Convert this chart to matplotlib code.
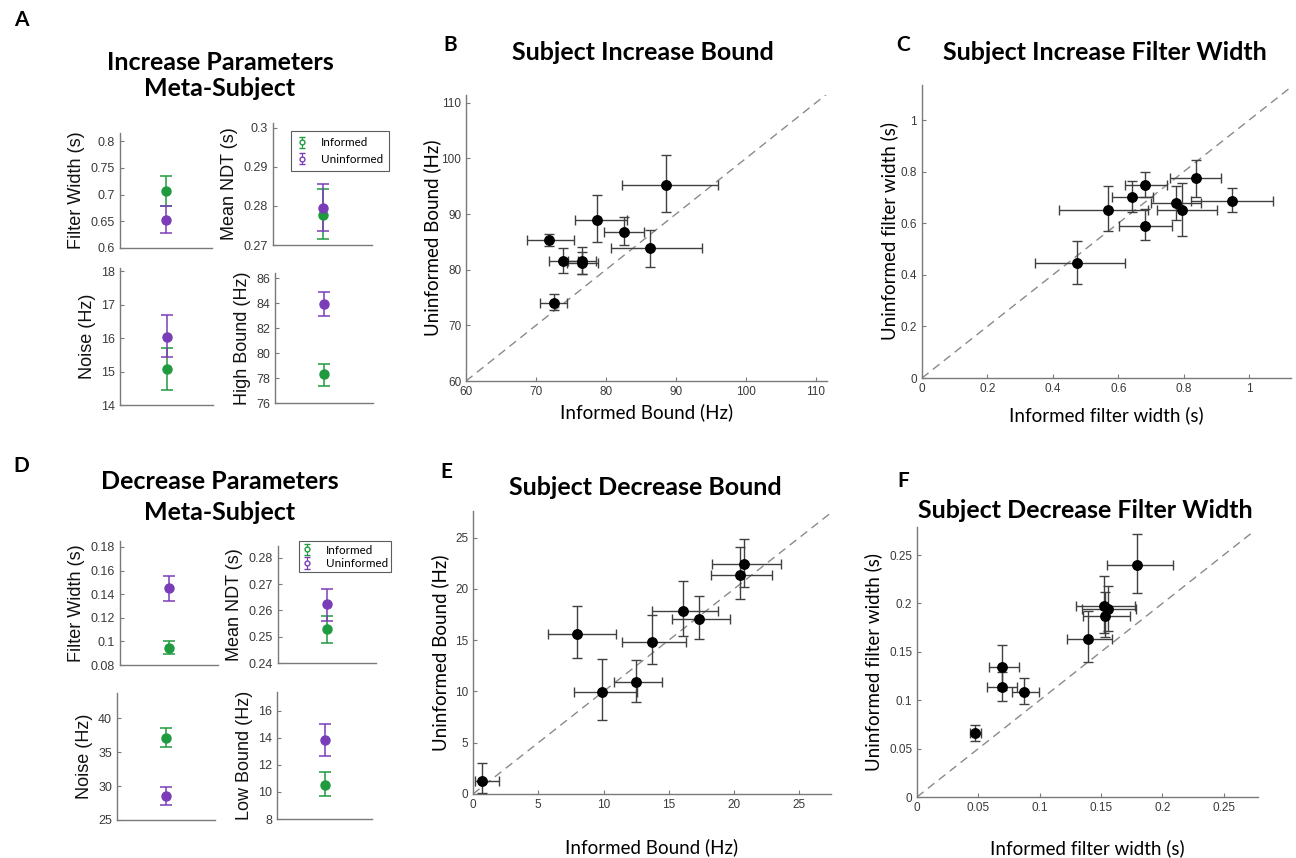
import numpy as np
import matplotlib
matplotlib.use("Agg")
import matplotlib.pyplot as plt

# ---- data: meta-subject summary panels (value, err_low, err_high) ----
labels_inc = ["Filter Width (s)", "Mean NDT (s)", "Noise (Hz)", "High Bound (Hz)"]
inc_informed = [0.707, 0.2777, 15.07, 78.3]
inc_informed_lo = [0.678, 0.2715, 14.45, 77.4]
inc_informed_hi = [0.734, 0.2842, 15.70, 79.15]
inc_uninformed = [0.653, 0.2795, 16.05, 83.95]
inc_uninformed_lo = [0.628, 0.2735, 15.43, 83.0]
inc_uninformed_hi = [0.678, 0.2857, 16.70, 84.85]
inc_ylims = [(0.6, 0.815), (0.27, 0.3012), (14, 18.1), (76, 86.4)]
inc_ticks = [[0.6, 0.65, 0.7, 0.75, 0.8], [0.27, 0.28, 0.29, 0.3],
             [14, 15, 16, 17, 18], [76, 78, 80, 82, 84, 86]]
inc_ticklabels = [["0.6", "0.65", "0.7", "0.75", "0.8"], ["0.27", "0.28", "0.29", "0.3"],
                  ["14", "15", "16", "17", "18"], ["76", "78", "80", "82", "84", "86"]]

labels_dec = ["Filter Width (s)", "Mean NDT (s)", "Noise (Hz)", "Low Bound (Hz)"]
dec_informed = [0.094, 0.253, 37.1, 10.55]
dec_informed_lo = [0.089, 0.2475, 35.7, 9.7]
dec_informed_hi = [0.100, 0.258, 38.5, 11.5]
dec_uninformed = [0.145, 0.2623, 28.5, 13.85]
dec_uninformed_lo = [0.134, 0.256, 27.2, 12.65]
dec_uninformed_hi = [0.155, 0.2683, 29.9, 15.05]
dec_ylims = [(0.08, 0.185), (0.24, 0.2845), (25, 43.7), (8, 17.4)]
dec_ticks = [[0.08, 0.1, 0.12, 0.14, 0.16, 0.18], [0.24, 0.25, 0.26, 0.27, 0.28],
             [25, 30, 35, 40], [8, 10, 12, 14, 16]]
dec_ticklabels = [["0.08", "0.1", "0.12", "0.14", "0.16", "0.18"],
                  ["0.24", "0.25", "0.26", "0.27", "0.28"],
                  ["25", "30", "35", "40"], ["8", "10", "12", "14", "16"]]

# ---- data: subject scatter panels ----
# B: increase bound
b_x = [88.54, 78.7, 82.6, 86.36, 71.85, 73.84, 76.6, 76.6, 72.56]
b_xlo = [82.3, 75.65, 79.74, 80.7, 68.66, 71.8, 74.56, 74.46, 70.6]
b_xhi = [96.06, 83.07, 85.5, 93.7, 75.37, 76.03, 78.6, 78.93, 74.46]
b_y = [95.16, 88.97, 86.86, 83.86, 85.42, 81.63, 81.63, 81.15, 74.06]
b_ylo = [90.3, 85.06, 84.46, 80.55, 84.34, 79.35, 79.17, 79.23, 72.74]
b_yhi = [100.6, 93.4, 89.4, 87.2, 86.38, 83.9, 84.1, 83.14, 75.56]

# C: increase filter width
c_x = [0.4745, 0.569, 0.643, 0.683, 0.681, 0.7765, 0.794, 0.838, 0.948]
c_xlo = [0.346, 0.419, 0.58, 0.62, 0.603, 0.70, 0.717, 0.757, 0.823]
c_xhi = [0.622, 0.69, 0.705, 0.748, 0.764, 0.852, 0.901, 0.914, 1.074]
c_y = [0.445, 0.653, 0.70, 0.749, 0.591, 0.678, 0.653, 0.776, 0.687]
c_ylo = [0.3635, 0.5705, 0.642, 0.70, 0.534, 0.6145, 0.552, 0.70, 0.642]
c_yhi = [0.532, 0.744, 0.762, 0.80, 0.656, 0.745, 0.757, 0.847, 0.735]

# E: decrease bound
e_x = [0.716, 7.98, 9.90, 12.49, 13.72, 16.1, 17.35, 20.47, 20.78]
e_xlo = [0.154, 5.78, 7.75, 10.8, 11.44, 13.72, 15.23, 18.22, 18.3]
e_xhi = [2.0, 10.93, 12.54, 14.51, 16.35, 18.78, 19.7, 22.93, 23.57]
e_y = [1.234, 15.62, 9.90, 10.88, 14.84, 17.86, 17.11, 21.4, 22.44]
e_ylo = [0.13, 13.28, 7.24, 8.96, 12.63, 15.39, 15.13, 18.99, 20.23]
e_yhi = [2.99, 18.38, 13.12, 13.05, 17.47, 20.78, 19.35, 24.09, 24.84]

# F: decrease filter width
f_x = [0.0471, 0.0697, 0.0692, 0.0871, 0.1397, 0.1522, 0.1558, 0.1536, 0.1797]
f_xlo = [0.043, 0.0583, 0.0572, 0.0773, 0.1225, 0.130, 0.1345, 0.135, 0.155]
f_xhi = [0.052, 0.0833, 0.0812, 0.0991, 0.159, 0.178, 0.1786, 0.1737, 0.209]
f_y = [0.066, 0.1343, 0.1136, 0.1088, 0.1637, 0.197, 0.194, 0.1875, 0.240]
f_ylo = [0.058, 0.111, 0.099, 0.096, 0.140, 0.169, 0.172, 0.1657, 0.2106]
f_yhi = [0.0746, 0.157, 0.129, 0.123, 0.192, 0.2286, 0.218, 0.2117, 0.272]

W, H = 1296, 858
GREEN = "#1f9a3f"
PURPLE = "#7a3db8"
SPINE = "#7a7a7a"
TICKC = "#3a3a3a"
TITLE_FONT = "Lato"
MATLAB_FONT = "Liberation Sans"

fig = plt.figure(figsize=(W / 100, H / 100), dpi=100)
fig.patch.set_facecolor("white")


def px_axes(left, top, right, bottom):
    return fig.add_axes([left / W, 1 - bottom / H, (right - left) / W, (bottom - top) / H])


def style_axes(ax, xticks=True, labelsize=8.5):
    for s in ["top", "right"]:
        ax.spines[s].set_visible(False)
    for s in ["left", "bottom"]:
        ax.spines[s].set_color(SPINE)
        ax.spines[s].set_linewidth(1.0)
    ax.tick_params(direction="in", length=3, width=0.8, color=SPINE,
                   labelcolor=TICKC, labelsize=labelsize)
    for lab in ax.get_xticklabels() + ax.get_yticklabels():
        lab.set_fontfamily(MATLAB_FONT)
    if not xticks:
        ax.set_xticks([])


def meta_panel(ax, vi, vilo, vihi, vu, vulo, vuhi, ylim, ticks, ticklabels, ylabel):
    ax.errorbar([1], [vi], yerr=[[vi - vilo], [vihi - vi]], fmt="o", color=GREEN,
                ms=6.5, elinewidth=1.1, capsize=4, capthick=1.1, zorder=3)
    ax.errorbar([1], [vu], yerr=[[vu - vulo], [vuhi - vu]], fmt="o", color=PURPLE,
                ms=6.5, elinewidth=1.1, capsize=4, capthick=1.1, zorder=3)
    ax.set_xlim(0, 2)
    ax.set_ylim(*ylim)
    ax.set_yticks(ticks)
    ax.set_yticklabels(ticklabels)
    style_axes(ax, xticks=False, labelsize=9)
    ax.set_ylabel(ylabel, fontsize=13, family=MATLAB_FONT, color="#111111", labelpad=4)


def scatter_panel(ax, x, xlo, xhi, y, ylo, yhi, xlim, ylim, ticks, ticklabels, diag_end,
                  xlabel, ylabel, xlabelpad=3, ylabelpad=3):
    x = np.array(x); y = np.array(y)
    xerr = [x - np.array(xlo), np.array(xhi) - x]
    yerr = [y - np.array(ylo), np.array(yhi) - y]
    ax.plot([xlim[0], diag_end], [ylim[0], diag_end], ls=(0, (6, 4)), color="#8a8a8a",
            lw=1.0, zorder=1)
    ax.errorbar(x, y, xerr=xerr, yerr=yerr, fmt="o", color="black", ecolor="#404040",
                ms=6.8, elinewidth=1.0, capsize=3.5, capthick=1.0, zorder=3)
    ax.set_xlim(*xlim)
    ax.set_ylim(*ylim)
    ax.set_xticks(ticks)
    ax.set_xticklabels(ticklabels)
    ax.set_yticks(ticks)
    ax.set_yticklabels(ticklabels)
    style_axes(ax)
    ax.set_xlabel(xlabel, fontsize=13.5, family=TITLE_FONT, labelpad=xlabelpad)
    ax.set_ylabel(ylabel, fontsize=13.5, family=TITLE_FONT, labelpad=ylabelpad)


def add_legend(ax, bbox, spacing, pad):
    handles = []
    for col, name in [(GREEN, "Informed"), (PURPLE, "Uninformed")]:
        h = ax.errorbar([np.nan], [np.nan], yerr=[1], fmt="o", color=col, mfc="white",
                        ms=3.5, elinewidth=0.8, capsize=2.5, label=name)
        handles.append(h)
    leg = fig.legend(handles=handles, loc="upper left", bbox_to_anchor=bbox,
                     bbox_transform=fig.transFigure, frameon=True, fancybox=False,
                     edgecolor="#333333", prop={"family": TITLE_FONT, "size": 8.4},
                     handlelength=0.8, handletextpad=1.2, borderpad=pad,
                     labelspacing=spacing, borderaxespad=0)
    leg.get_frame().set_linewidth(0.8)


# ---- panel A ----
a_rects = [(120, 133, 212, 248), (273, 123, 372, 245), (120, 268, 213, 405), (275, 273, 373, 403)]
for i, r in enumerate(a_rects):
    ax = px_axes(*r)
    meta_panel(ax, inc_informed[i], inc_informed_lo[i], inc_informed_hi[i],
               inc_uninformed[i], inc_uninformed_lo[i], inc_uninformed_hi[i],
               inc_ylims[i], inc_ticks[i], inc_ticklabels[i], labels_inc[i])
    if i == 1:
        add_legend(ax, (291 / W, 1 - 131 / H), 0.45, 0.55)

# ---- panel D ----
d_rects = [(120, 541, 218, 665), (278, 546, 376, 663), (117, 693, 215, 820), (277, 692, 372, 819)]
for i, r in enumerate(d_rects):
    ax = px_axes(*r)
    meta_panel(ax, dec_informed[i], dec_informed_lo[i], dec_informed_hi[i],
               dec_uninformed[i], dec_uninformed_lo[i], dec_uninformed_hi[i],
               dec_ylims[i], dec_ticks[i], dec_ticklabels[i], labels_dec[i])
    if i == 1:
        add_legend(ax, (299 / W, 1 - 541 / H), 0.2, 0.3)

# ---- panel B ----
ax = px_axes(466, 95, 827, 381)
scatter_panel(ax, b_x, b_xlo, b_xhi, b_y, b_ylo, b_yhi, (60, 111.6), (60, 111.4),
              [60, 70, 80, 90, 100, 110], ["60", "70", "80", "90", "100", "110"], 111.6,
              "Informed Bound (Hz)", "Uninformed Bound (Hz)", xlabelpad=4, ylabelpad=0)

# ---- panel C ----
ax = px_axes(922, 85, 1291, 378)
scatter_panel(ax, c_x, c_xlo, c_xhi, c_y, c_ylo, c_yhi, (0, 1.128), (0, 1.136),
              [0, 0.2, 0.4, 0.6, 0.8, 1.0], ["0", "0.2", "0.4", "0.6", "0.8", "1"], 1.128,
              "Informed filter width (s)", "Uninformed filter width (s)",
              xlabelpad=8, ylabelpad=2)

# ---- panel E ----
ax = px_axes(473, 511, 831, 794)
scatter_panel(ax, e_x, e_xlo, e_xhi, e_y, e_ylo, e_yhi, (0, 27.43), (0, 27.6),
              [0, 5, 10, 15, 20, 25], ["0", "5", "10", "15", "20", "25"], 27.43,
              "Informed Bound (Hz)", "Uninformed Bound (Hz)", xlabelpad=20, ylabelpad=4)

# ---- panel F ----
ax = px_axes(917, 527, 1258, 797)
scatter_panel(ax, f_x, f_xlo, f_xhi, f_y, f_ylo, f_yhi, (0, 0.278), (0, 0.279),
              [0, 0.05, 0.1, 0.15, 0.2, 0.25], ["0", "0.05", "0.1", "0.15", "0.2", "0.25"],
              0.275, "Informed filter width (s)", "Uninformed filter width (s)",
              xlabelpad=18, ylabelpad=5)


# ---- titles and panel letters ----
def ftext(x, y, s, size, weight="bold", ha="center"):
    fig.text(x / W, 1 - y / H, s, fontsize=size, fontweight=weight, family=TITLE_FONT,
             ha=ha, va="center")


ftext(220, 62, "Increase Parameters", 18)
ftext(220, 88, "Meta-Subject", 18)
ftext(220, 482, "Decrease Parameters", 18)
ftext(220, 513, "Meta-Subject", 18)
ftext(643, 52, "Subject Increase Bound", 18)
ftext(1105, 52, "Subject Increase Filter Width", 18)
ftext(645, 488, "Subject Decrease Bound", 18)
ftext(1085, 510, "Subject Decrease Filter Width", 18)

for letter, x, y in [("A", 21, 20), ("B", 450, 45), ("C", 903, 45),
                     ("D", 21, 466), ("E", 446, 472), ("F", 903, 481)]:
    ftext(x, y, letter, 15, ha="center")

fig.savefig("out.png", dpi=100, facecolor="white")
